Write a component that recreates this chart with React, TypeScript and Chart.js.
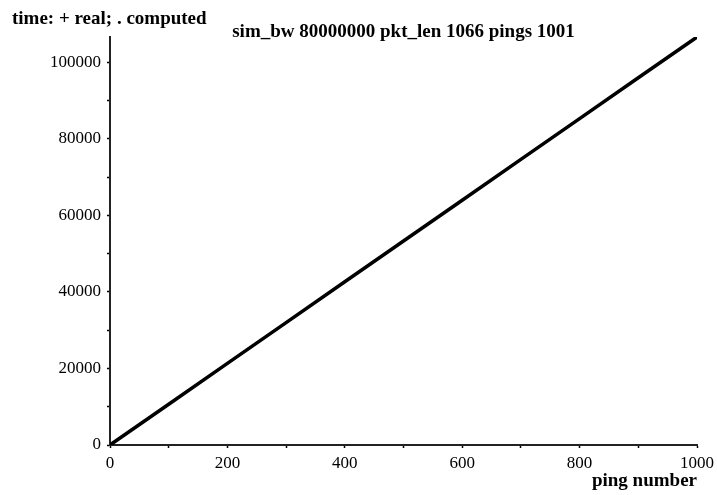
import React, { useEffect, useRef } from "react";
import { Chart, registerables } from "chart.js";

Chart.register(...registerables);

const pings = [0, 100, 200, 300, 400, 500, 600, 700, 800, 900, 1000];
const realTime = [0, 10660, 21320, 31980, 42640, 53300, 63960, 74620, 85280, 95940, 106600];
const computedTime = [0, 10660, 21320, 31980, 42640, 53300, 63960, 74620, 85280, 95940, 106600];
const yTickValues = [0, 10000, 20000, 30000, 40000, 50000, 60000, 70000, 80000, 90000, 100000];
const yLabelTicks = [0, 20000, 40000, 60000, 80000, 100000];
const xTickValues = [0, 100, 200, 300, 400, 500, 600, 700, 800, 900, 1000];
const xLabelTicks = [0, 200, 400, 600, 800, 1000];

const titleText = "sim_bw 80000000 pkt_len 1066 pings 1001";
const yTitleText = "time: + real; . computed";
const xTitleText = "ping number";

const FONT = '"Liberation Serif", "Times New Roman", serif';

export default function App() {
  const ref = useRef<HTMLCanvasElement | null>(null);

  useEffect(() => {
    if (!ref.current) return;
    const textPlugin = {
      id: "texts",
      afterDraw(chart: any) {
        const ctx = chart.ctx;
        const area = chart.chartArea;
        ctx.save();
        ctx.fillStyle = "#000";
        ctx.font = `bold 19px ${FONT}`;
        ctx.textBaseline = "alphabetic";
        ctx.textAlign = "left";
        ctx.fillText(yTitleText, 12, 24);
        ctx.textAlign = "center";
        ctx.fillText(titleText, (area.left + area.right) / 2, 37);
        ctx.textAlign = "right";
        ctx.fillText(xTitleText, area.right, 486);
        ctx.restore();
      },
    };

    const chart = new Chart(ref.current, {
      type: "line",
      data: {
        datasets: [
          {
            label: "real",
            data: pings.map((p, i) => ({ x: p, y: realTime[i] })),
            borderColor: "#000",
            borderWidth: 3.5,
            pointRadius: 0,
            tension: 0,
          },
          {
            label: "computed",
            data: pings.map((p, i) => ({ x: p, y: computedTime[i] })),
            borderColor: "#000",
            borderWidth: 2,
            pointRadius: 0,
            tension: 0,
          },
        ],
      },
      options: {
        responsive: false,
        animation: false,
        layout: { padding: { left: 0, right: 20, top: 37, bottom: 0 } },
        plugins: {
          legend: { display: false },
          title: { display: false },
          tooltip: { enabled: false },
        },
        scales: {
          x: {
            type: "linear",
            min: 0,
            max: 1000,
            afterBuildTicks: (s: any) => {
              s.ticks = xTickValues.map((v) => ({ value: v }));
            },
            ticks: {
              color: "#000",
              font: { family: FONT, size: 17 },
              padding: 5,
              maxRotation: 0,
              autoSkip: false,
              callback: (v: any) => (xLabelTicks.includes(Math.round(Number(v))) ? String(v) : ""),
            },
            grid: {
              drawOnChartArea: false,
              drawTicks: true,
              tickLength: 3,
              tickColor: "#000",
              tickWidth: 1.5,
            },
            border: { display: true, color: "#222", width: 2 },
            afterFit: (s: any) => {
              s.height = 50;
              s.paddingLeft = 0;
              s.paddingRight = 0;
            },
          },
          y: {
            type: "linear",
            min: 0,
            max: 106600,
            afterBuildTicks: (s: any) => {
              s.ticks = yTickValues.map((v) => ({ value: v }));
            },
            ticks: {
              color: "#000",
              font: { family: FONT, size: 17 },
              padding: 6,
              autoSkip: false,
              callback: (v: any) => (yLabelTicks.includes(Math.round(Number(v))) ? String(v) : ""),
            },
            grid: {
              drawOnChartArea: false,
              drawTicks: true,
              tickLength: 3,
              tickColor: "#000",
              tickWidth: 1.5,
            },
            border: { display: true, color: "#222", width: 2 },
            afterFit: (s: any) => {
              s.width = 110;
              s.paddingTop = 0;
              s.paddingBottom = 0;
            },
          },
        },
      },
      plugins: [textPlugin],
    });
    return () => chart.destroy();
  }, []);

  return (
    <div style={{ position: "fixed", left: 0, top: 0, width: 717, height: 495, background: "#fff" }}>
      <canvas ref={ref} width={717} height={495} style={{ width: 717, height: 495, display: "block" }} />
    </div>
  );
}
